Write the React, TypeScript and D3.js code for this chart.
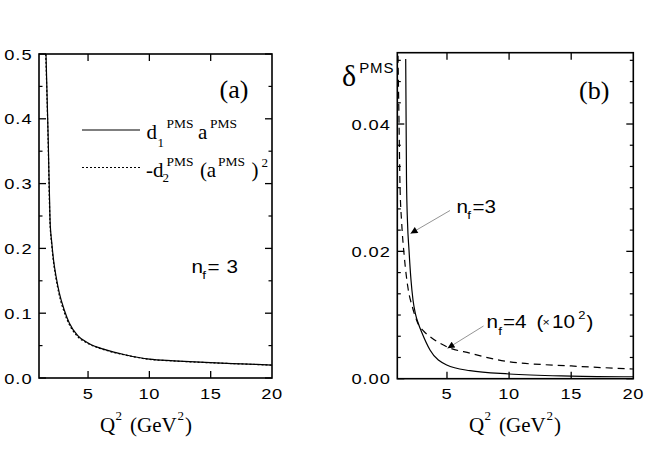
import React, { useEffect, useRef } from 'react';
import * as d3 from 'd3';

// panel (a): d1 a and -d2 a^2 vs Q^2, nf = 3
const q2A = [1.57, 1.75, 1.9, 2.04, 2.2, 2.39, 2.66, 3.06, 3.47, 4.16, 5, 6.46, 8.1, 10, 12, 15, 17.5, 20];
const d1a = [0.5, 0.37, 0.244, 0.209, 0.18, 0.157, 0.131, 0.105, 0.085, 0.0655, 0.054, 0.0433, 0.0355, 0.029, 0.0265, 0.0236, 0.0218, 0.02];
const q2Adot = [1.55, 1.74, 1.89, 2.03, 2.19, 2.38, 2.65, 3.05, 3.46, 4.15, 5, 6.46, 8.1, 10, 12, 15, 17.5, 20];
const d2a2 = [0.5, 0.37, 0.244, 0.207, 0.178, 0.154, 0.128, 0.102, 0.083, 0.064, 0.0532, 0.0428, 0.0352, 0.0288, 0.0263, 0.0235, 0.0217, 0.0199];

// panel (b): delta^PMS
const q2Nf3 = [1.676, 1.741, 1.821, 1.942, 2.103, 2.264, 2.465, 2.707, 2.989, 3.633, 4.978, 6.853, 10, 15, 20];
const deltaNf3 = [0.0502, 0.0312, 0.0246, 0.0202, 0.0155, 0.01236, 0.01016, 0.00859, 0.00718, 0.00451, 0.00215, 0.00126, 0.00074, 0.00042, 0.00031];
const q2Nf4 = [1.056, 1.137, 1.217, 1.354, 1.564, 1.886, 2.208, 2.642, 3.15, 3.633, 4.978, 6.853, 10, 15, 20];
const deltaNf4 = [0.0507, 0.0406, 0.0304, 0.02445, 0.01916, 0.01393, 0.01131, 0.00875, 0.00741, 0.0066, 0.00503, 0.004, 0.00267, 0.002, 0.00152];

const xTicks = [5, 10, 15, 20];
const yTicksA = [0, 0.1, 0.2, 0.3, 0.4, 0.5];
const yTicksB = [0, 0.02, 0.04];

const SANS = 'Liberation Sans, Arial, sans-serif';
const SERIF = 'Liberation Serif, Times New Roman, serif';
const SX = 1.18; // sans text in the figure is drawn a bit wide

const App = () => {
  const svgRef = useRef(null);

  useEffect(() => {
    const svg = d3.select(svgRef.current);
    svg.selectAll('*').remove();

    svg.append('defs').append('marker')
      .attr('id', 'arr')
      .attr('viewBox', '0 0 10 10')
      .attr('refX', 10).attr('refY', 5)
      .attr('markerWidth', 9).attr('markerHeight', 7)
      .attr('markerUnits', 'userSpaceOnUse')
      .attr('orient', 'auto')
      .append('path').attr('d', 'M0,0L10,5L0,10Z').attr('fill', '#000');

    const sansText = (g, x, y, size, anchor, t, ls = 0) =>
      g.append('text').attr('transform', `translate(${x},${y}) scale(${SX},1)`)
        .attr('text-anchor', anchor).attr('font-family', SANS).attr('font-size', size)
        .attr('letter-spacing', ls).text(t);

    // draws frame, ticks, labels for one panel
    const panel = (left, right, top, bottom, yMax, yMajor, yMinor, fmt) => {
      const x = d3.scaleLinear().domain([1, 20]).range([left, right]);
      const y = d3.scaleLinear().domain([0, yMax]).range([bottom, top]);
      const g = svg.append('g');

      xTicks.filter((t) => t < 20).forEach((t) => {
        g.append('line').attr('x1', x(t)).attr('x2', x(t)).attr('y1', bottom).attr('y2', bottom - 7)
          .attr('stroke', '#000').attr('stroke-width', 1.3);
        g.append('line').attr('x1', x(t)).attr('x2', x(t)).attr('y1', top).attr('y2', top + 7)
          .attr('stroke', '#000').attr('stroke-width', 1.3);
      });
      xTicks.forEach((t) => sansText(g, x(t), bottom + 20.5, 15.5, 'middle', t, 0.5));
      yMajor.forEach((t) => {
        [[left, left + 7], [right, right - 7]].forEach(([a, b]) => {
          g.append('line').attr('x1', a).attr('x2', b).attr('y1', y(t)).attr('y2', y(t))
            .attr('stroke', '#000').attr('stroke-width', 1.3);
        });
        sansText(g, left - 6.5, y(t) + 5.5, 15.5, 'end', fmt(t), 0.8);
      });
      yMinor.forEach((t) => {
        [[left, left + 3.5], [right, right - 3.5]].forEach(([a, b]) => {
          g.append('line').attr('x1', a).attr('x2', b).attr('y1', y(t)).attr('y2', y(t))
            .attr('stroke', '#000').attr('stroke-width', 1.2);
        });
      });
      g.append('rect').attr('x', left).attr('y', top).attr('width', right - left).attr('height', bottom - top)
        .attr('fill', 'none').attr('stroke', '#000').attr('stroke-width', 1.6);
      return { x, y, g };
    };

    const curve = (p, xs, ys, dash) => {
      const line = d3.line().x((d) => p.x(d[0])).y((d) => p.y(d[1])).curve(d3.curveMonotoneX);
      p.g.append('path').datum(xs.map((v, i) => [v, ys[i]]))
        .attr('d', line).attr('fill', 'none').attr('stroke', '#000').attr('stroke-width', 1.2)
        .attr('stroke-dasharray', dash || null);
    };

    // rich text made of runs: [text, x, y, size, 's' for sans]
    const runs = (items) => {
      items.forEach(([t, x, y, size, fam]) => {
        if (fam === 's') sansText(svg, x, y, size, 'start', t);
        else svg.append('text').attr('x', x).attr('y', y).attr('font-size', size)
          .attr('font-family', SERIF).text(t);
      });
    };

    // ---- panel (a)
    const minorA = d3.range(0.05, 0.5, 0.1);
    const pa = panel(39, 272, 54, 378, 0.5, yTicksA, minorA, d3.format('.1f'));
    curve(pa, q2A, d1a);
    curve(pa, q2Adot, d2a2, '2,2');

    svg.append('line').attr('x1', 82).attr('x2', 140).attr('y1', 130).attr('y2', 130)
      .attr('stroke', '#000').attr('stroke-width', 1.1);
    svg.append('line').attr('x1', 82).attr('x2', 140).attr('y1', 167.5).attr('y2', 167.5)
      .attr('stroke', '#000').attr('stroke-width', 1.1).attr('stroke-dasharray', '2,2');

    runs([
      ['(a)', 219.5, 98, 26],
      ['d', 146.5, 139, 21], ['1', 157.5, 146.5, 13], ['PMS', 166.5, 128.3, 13.5],
      ['a', 198, 139, 21], ['PMS', 210, 128.3, 13.5],
      ['-d', 146, 177, 21], ['2', 162.5, 182, 13], ['PMS', 166.5, 166, 13.5],
      ['(', 200, 177, 21], ['a', 206.7, 177, 21], ['PMS', 218, 166, 13.5],
      [')', 251.5, 177, 21], ['2', 261.5, 166.5, 13],
      ['n', 191.5, 272.7, 17.5, 's'], ['f', 202.3, 279.3, 11.5, 's'], ['=', 207.5, 272.7, 17.5, 's'], ['3', 226.5, 272.7, 17.5, 's'],
      ['Q', 100, 432, 21], ['2', 115.5, 420, 13], ['(GeV', 130, 432, 21], ['2', 177.5, 420, 13], [')', 185, 432, 21],
    ]);

    // ---- panel (b)
    const minorB = d3.range(1, 16).map((i) => (i * 0.02) / 6).filter((v) => Math.abs(v / 0.02 - Math.round(v / 0.02)) > 1e-6);
    const pb = panel(397.3, 633.3, 52.7, 378.7, 0.0512, yTicksB, minorB, d3.format('.2f'));
    curve(pb, q2Nf3, deltaNf3);
    curve(pb, q2Nf4, deltaNf4, '7,5');

    svg.append('line').attr('x1', 450).attr('y1', 210.5).attr('x2', 410.5).attr('y2', 233.5)
      .attr('stroke', '#888').attr('stroke-width', 0.9).attr('marker-end', 'url(#arr)');
    svg.append('line').attr('x1', 483.5).attr('y1', 326).attr('x2', 447.5).attr('y2', 348.3)
      .attr('stroke', '#888').attr('stroke-width', 0.9).attr('marker-end', 'url(#arr)');

    runs([
      ['(b)', 579, 99, 26],
      ['δ', 342, 86, 30],
      ['n', 456.5, 213.3, 17.5, 's'], ['f', 467.3, 219, 11.5, 's'], ['=3', 472.5, 213.3, 17.5, 's'],
      ['n', 486.5, 328.3, 17.5, 's'], ['f', 498.3, 334.5, 11.5, 's'], ['=4', 503, 328.3, 17.5, 's'],
      ['(', 536.5, 328.3, 17.5, 's'], ['×', 542.5, 326, 10.5, 's'], ['10', 552, 328.3, 17.5, 's'],
      ['2', 578.3, 319, 11, 's'], [')', 586.5, 328.3, 17.5, 's'],
      ['Q', 469, 432, 21], ['2', 484.5, 420, 13], ['(GeV', 499, 432, 21], ['2', 546.5, 420, 13], [')', 554, 432, 21],
    ]);
    svg.append('text').attr('x', 359.3).attr('y', 73.3).attr('font-family', SANS).attr('font-size', 15)
      .attr('letter-spacing', 0.8).text('PMS');
  }, []);

  return (
    <svg ref={svgRef} width={654} height={454}
      style={{ position: 'absolute', left: 0, top: 0, background: '#fff' }} />
  );
};

export default App;
